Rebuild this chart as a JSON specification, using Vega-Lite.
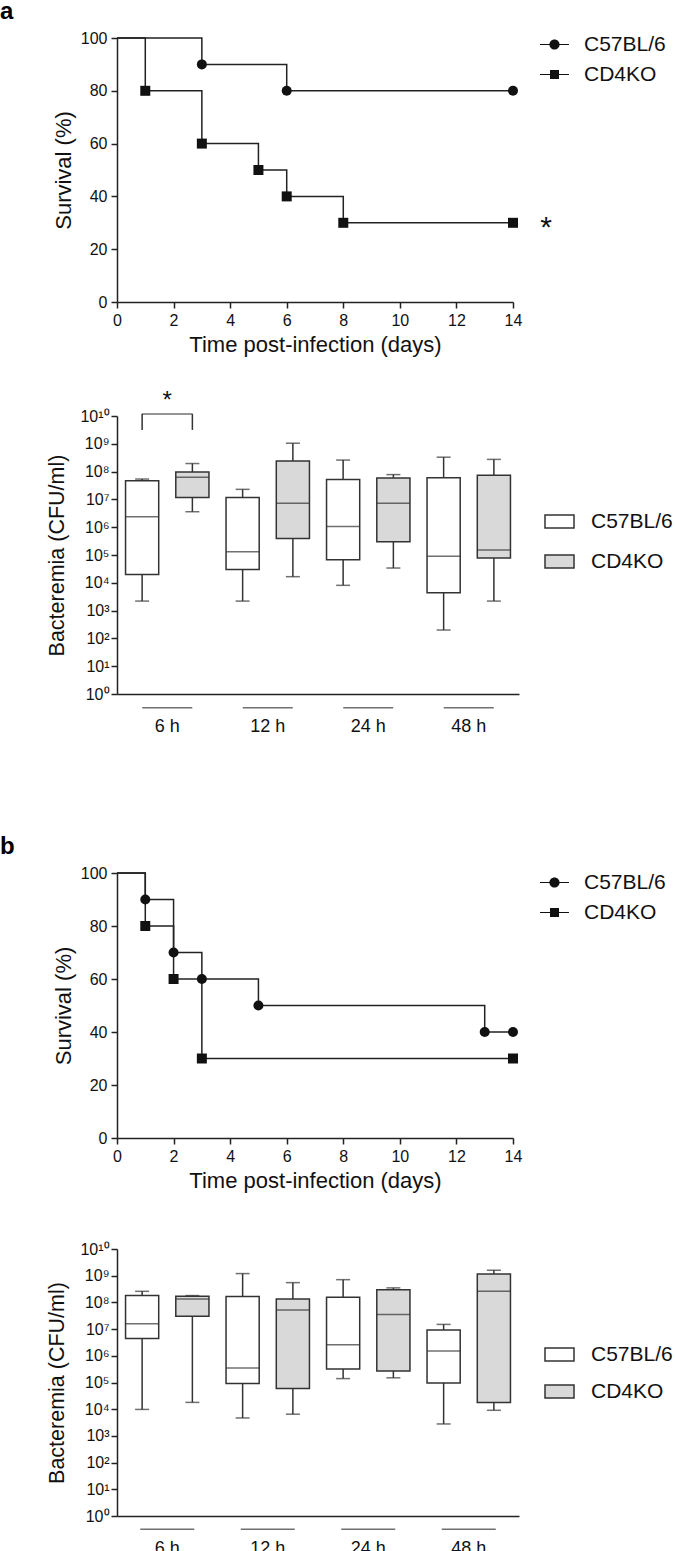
{
  "$schema": "https://vega.github.io/schema/vega-lite/v6.json",
  "background": "white",
  "padding": {"left": 0, "top": 0, "right": 0, "bottom": 0},
  "datasets": {
    "surv_a": [
      {"strain": "C57BL/6", "day": 0, "survival": 100},
      {"strain": "C57BL/6", "day": 3, "survival": 90},
      {"strain": "C57BL/6", "day": 6, "survival": 80},
      {"strain": "C57BL/6", "day": 14, "survival": 80},
      {"strain": "CD4KO", "day": 0, "survival": 100},
      {"strain": "CD4KO", "day": 1, "survival": 80},
      {"strain": "CD4KO", "day": 3, "survival": 60},
      {"strain": "CD4KO", "day": 5, "survival": 50},
      {"strain": "CD4KO", "day": 6, "survival": 40},
      {"strain": "CD4KO", "day": 8, "survival": 30},
      {"strain": "CD4KO", "day": 14, "survival": 30}
    ],
    "surv_b": [
      {"strain": "C57BL/6", "day": 0, "survival": 100},
      {"strain": "C57BL/6", "day": 1, "survival": 90},
      {"strain": "C57BL/6", "day": 2, "survival": 70},
      {"strain": "C57BL/6", "day": 3, "survival": 60},
      {"strain": "C57BL/6", "day": 5, "survival": 50},
      {"strain": "C57BL/6", "day": 13, "survival": 40},
      {"strain": "C57BL/6", "day": 14, "survival": 40},
      {"strain": "CD4KO", "day": 0, "survival": 100},
      {"strain": "CD4KO", "day": 1, "survival": 80},
      {"strain": "CD4KO", "day": 2, "survival": 60},
      {"strain": "CD4KO", "day": 3, "survival": 30},
      {"strain": "CD4KO", "day": 14, "survival": 30}
    ],
    "box_a": [
      {"time": "6 h", "strain": "C57BL/6", "min": 2200, "q1": 20000, "median": 2400000, "q3": 47000000, "max": 54000000},
      {"time": "6 h", "strain": "CD4KO", "min": 3600000, "q1": 11800000, "median": 63000000, "q3": 97000000, "max": 195000000},
      {"time": "12 h", "strain": "C57BL/6", "min": 2200, "q1": 30000, "median": 130000, "q3": 11700000, "max": 23000000},
      {"time": "12 h", "strain": "CD4KO", "min": 16600, "q1": 390000, "median": 7200000, "q3": 240000000, "max": 1050000000},
      {"time": "24 h", "strain": "C57BL/6", "min": 8100, "q1": 68000, "median": 1070000, "q3": 52000000, "max": 260000000},
      {"time": "24 h", "strain": "CD4KO", "min": 34000, "q1": 300000, "median": 7200000, "q3": 59000000, "max": 78000000},
      {"time": "48 h", "strain": "C57BL/6", "min": 200, "q1": 4400, "median": 91000, "q3": 60000000, "max": 330000000},
      {"time": "48 h", "strain": "CD4KO", "min": 2200, "q1": 78000, "median": 150000, "q3": 74000000, "max": 275000000}
    ],
    "box_b": [
      {"time": "6 h", "strain": "C57BL/6", "min": 9800, "q1": 4400000, "median": 16000000, "q3": 180000000, "max": 260000000},
      {"time": "6 h", "strain": "CD4KO", "min": 18000, "q1": 30000000, "median": 135000000, "q3": 170000000, "max": 180000000},
      {"time": "12 h", "strain": "C57BL/6", "min": 4700, "q1": 91000, "median": 350000, "q3": 166000000, "max": 1200000000},
      {"time": "12 h", "strain": "CD4KO", "min": 6500, "q1": 59000, "median": 52000000, "q3": 135000000, "max": 550000000},
      {"time": "24 h", "strain": "C57BL/6", "min": 140000, "q1": 320000, "median": 2600000, "q3": 155000000, "max": 710000000},
      {"time": "24 h", "strain": "CD4KO", "min": 150000, "q1": 270000, "median": 35000000, "q3": 295000000, "max": 350000000},
      {"time": "48 h", "strain": "C57BL/6", "min": 2800, "q1": 95000, "median": 1500000, "q3": 9300000, "max": 15000000},
      {"time": "48 h", "strain": "CD4KO", "min": 9100, "q1": 18000, "median": 260000000, "q3": 1170000000, "max": 1600000000}
    ]
  },
  "config": {
    "view": {"stroke": null},
    "font": "Liberation Sans",
    "axis": {
      "grid": false,
      "domainColor": "#222", "domainWidth": 1.5,
      "tickColor": "#222", "tickWidth": 1.5, "tickSize": 6,
      "labelFont": "Liberation Sans", "labelFontSize": 16, "labelColor": "#111",
      "titleFont": "Liberation Sans", "titleFontSize": 21, "titleFontWeight": "normal", "titleColor": "#111",
      "labelFlush": false, "labelOverlap": false
    },
    "legend": {
      "labelFont": "Liberation Sans", "labelFontSize": 21, "labelColor": "#111", "padding": 0
    }
  },
  "spacing": 100,
  "resolve": {
    "scale": {"shape": "independent", "fill": "independent"},
    "legend": {"shape": "independent", "fill": "independent"}
  },
  "vconcat": [
    {
      "spacing": 114,
      "bounds": "flush",
      "resolve": {
        "scale": {"shape": "independent", "fill": "independent"},
        "legend": {"shape": "independent", "fill": "independent"}
      },
      "vconcat": [
        {
          "width": 396, "height": 264,
          "title": {"text": "a", "anchor": "start", "frame": "group", "dx": -117, "offset": -14, "baseline": "alphabetic", "fontSize": 24, "fontWeight": "bold", "font": "Liberation Sans", "color": "#000"},
          "resolve": {"scale": {"shape": "independent"}, "legend": {"shape": "independent"}},
          "layer": [
            {
              "data": {"name": "surv_a"},
              "mark": {"type": "line", "interpolate": "step-after", "color": "#222", "strokeWidth": 1.5},
              "encoding": {
                "x": {"field": "day", "type": "quantitative", "scale": {"domain": [0, 14], "nice": false},
                      "axis": {"values": [0, 2, 4, 6, 8, 10, 12, 14], "title": "Time post-infection (days)", "titleFontSize": 22, "titlePadding": 6, "labelPadding": 4}},
                "y": {"field": "survival", "type": "quantitative", "scale": {"domain": [0, 100], "nice": false},
                      "axis": {"values": [0, 20, 40, 60, 80, 100], "title": "Survival (%)", "titleFontSize": 22, "titlePadding": 5, "labelPadding": 4}},
                "detail": {"field": "strain"}
              }
            },
            {
              "data": {"name": "surv_a"},
              "transform": [{"filter": "datum.day > 0"}],
              "mark": {"type": "point", "filled": true, "opacity": 1, "color": "#111", "size": 100},
              "encoding": {
                "x": {"field": "day", "type": "quantitative"},
                "y": {"field": "survival", "type": "quantitative"},
                "shape": {"field": "strain", "type": "nominal",
                  "scale": {"domain": ["C57BL/6", "CD4KO"], "range": ["circle", "square"]}, "legend": null}
              }
            },
            {
              "data": {"name": "surv_a"},
              "transform": [{"filter": "datum.day < 0"}],
              "mark": {"type": "point", "filled": true, "color": "#111", "opacity": 1, "size": 841},
              "encoding": {
                "x": {"field": "day", "type": "quantitative"},
                "y": {"field": "survival", "type": "quantitative"},
                "shape": {"field": "strain", "type": "nominal",
                  "scale": {"domain": ["C57BL/6", "CD4KO"], "range": ["M-1,-0.03L1,-0.03L1,0.03L-1,0.03ZM0.35,0A0.35,0.35,0,1,1,-0.35,0A0.35,0.35,0,1,1,0.35,0Z", "M-1,-0.03L1,-0.03L1,0.03L-1,0.03ZM-0.31,-0.31L0.31,-0.31L0.31,0.31L-0.31,0.31Z"]},
                  "legend": {"orient": "none", "legendX": 422, "legendY": -9, "title": null,
                    "symbolSize": 841, "symbolFillColor": "#111",
                    "labelOffset": 14, "rowPadding": 4}}
              }
            },
            {
              "data": {"values": [{}]},
              "mark": {"type": "text", "text": "*", "fontSize": 30, "dx": 33, "baseline": "alphabetic", "align": "center", "color": "#111"},
              "encoding": {"x": {"datum": 14}, "y": {"datum": 24.6}}
            }
          ]
        },
        {
          "width": 402, "height": 278,
          "data": {"name": "box_a"},
          "layer": [
            {
              "mark": {"type": "rule", "color": "#333", "strokeWidth": 1.5},
              "encoding": {
                "x": {"field": "time", "type": "nominal", "scale": {"domain": ["6 h", "12 h", "24 h", "48 h"], "paddingInner": 0, "paddingOuter": 0},
                      "axis": {"title": null, "ticks": false, "tickSize": 0, "labelPadding": 23, "labelFontSize": 18, "labelAngle": 0}},
                "xOffset": {"field": "strain", "type": "nominal", "scale": {"domain": ["C57BL/6", "CD4KO"], "paddingInner": 0.34, "paddingOuter": 0.17}},
                "y": {"field": "min", "type": "quantitative", "scale": {"type": "log", "domain": [1, 10000000000]},
                      "axis": {"values": [1, 10, 100, 1000, 10000, 100000, 1000000, 10000000, 100000000, 1000000000, 10000000000],
                               "labelExpr": "'10' + ['⁰','¹','²','³','⁴','⁵','⁶','⁷','⁸','⁹','¹⁰'][round(log(datum.value)/LN10)]",
                               "title": "Bacteremia (CFU/ml)", "titleFontSize": 21.5, "titlePadding": 11, "labelPadding": 2}},
                "y2": {"field": "max"}
              }
            },
            {
              "mark": {"type": "tick", "color": "#333", "thickness": 1.5, "size": 14},
              "encoding": {
                "x": {"field": "time", "type": "nominal"},
                "xOffset": {"field": "strain", "type": "nominal"},
                "y": {"field": "min", "type": "quantitative"}
              }
            },
            {
              "mark": {"type": "tick", "color": "#333", "thickness": 1.5, "size": 14},
              "encoding": {
                "x": {"field": "time", "type": "nominal"},
                "xOffset": {"field": "strain", "type": "nominal"},
                "y": {"field": "max", "type": "quantitative"}
              }
            },
            {
              "mark": {"type": "bar", "stroke": "#333", "strokeWidth": 1.5},
              "encoding": {
                "x": {"field": "time", "type": "nominal"},
                "xOffset": {"field": "strain", "type": "nominal"},
                "y": {"field": "q1", "type": "quantitative"},
                "y2": {"field": "q3"},
                "fill": {"field": "strain", "type": "nominal",
                  "scale": {"domain": ["C57BL/6", "CD4KO"], "range": ["#ffffff", "#d9d9d9"]},
                  "legend": {"orient": "none", "legendX": 427, "legendY": 90, "title": null,
                    "symbolType": "M-1,-0.45L1,-0.45L1,0.45L-1,0.45Z", "symbolSize": 841,
                    "symbolStrokeColor": "#333", "symbolStrokeWidth": 1.5, "labelOffset": 16, "rowPadding": 14}}
              }
            },
            {
              "mark": {"type": "tick", "color": "#333", "thickness": 1.5, "size": 33},
              "encoding": {
                "x": {"field": "time", "type": "nominal"},
                "xOffset": {"field": "strain", "type": "nominal"},
                "y": {"field": "median", "type": "quantitative"}
              }
            },
            {
              "transform": [{"filter": "datum.strain === 'C57BL/6'"}],
              "mark": {"type": "tick", "color": "#333", "thickness": 1.5, "size": 50},
              "encoding": {
                "x": {"field": "time", "type": "nominal"},
                "y": {"datum": 0.32}
              }
            },
            {
              "transform": [{"filter": "datum.time === '6 h'"}],
              "mark": {"type": "rule", "color": "#333", "strokeWidth": 1.5},
              "encoding": {
                "x": {"field": "time", "type": "nominal"},
                "xOffset": {"field": "strain", "type": "nominal"},
                "y": {"datum": 3160000000},
                "y2": {"datum": 11700000000}
              }
            },
            {
              "transform": [{"filter": "datum.time === '6 h' && datum.strain === 'C57BL/6'"}],
              "mark": {"type": "tick", "color": "#333", "thickness": 1.5, "size": 51},
              "encoding": {
                "x": {"field": "time", "type": "nominal"},
                "y": {"datum": 11700000000}
              }
            },
            {
              "transform": [{"filter": "datum.time === '6 h' && datum.strain === 'C57BL/6'"}],
              "mark": {"type": "text", "text": "*", "fontSize": 24, "baseline": "alphabetic", "align": "center", "color": "#111"},
              "encoding": {
                "x": {"field": "time", "type": "nominal"},
                "y": {"datum": 19000000000}
              }
            }
          ]
        }
      ]
    },
    {
      "spacing": 111,
      "bounds": "flush",
      "resolve": {
        "scale": {"shape": "independent", "fill": "independent"},
        "legend": {"shape": "independent", "fill": "independent"}
      },
      "vconcat": [
        {
          "width": 396, "height": 265,
          "title": {"text": "b", "anchor": "start", "frame": "group", "dx": -117, "offset": -13, "baseline": "alphabetic", "fontSize": 24, "fontWeight": "bold", "font": "Liberation Sans", "color": "#000"},
          "resolve": {"scale": {"shape": "independent"}, "legend": {"shape": "independent"}},
          "layer": [
            {
              "data": {"name": "surv_b"},
              "mark": {"type": "line", "interpolate": "step-after", "color": "#222", "strokeWidth": 1.5},
              "encoding": {
                "x": {"field": "day", "type": "quantitative", "scale": {"domain": [0, 14], "nice": false},
                      "axis": {"values": [0, 2, 4, 6, 8, 10, 12, 14], "title": "Time post-infection (days)", "titleFontSize": 22, "titlePadding": 6, "labelPadding": 4}},
                "y": {"field": "survival", "type": "quantitative", "scale": {"domain": [0, 100], "nice": false},
                      "axis": {"values": [0, 20, 40, 60, 80, 100], "title": "Survival (%)", "titleFontSize": 22, "titlePadding": 5, "labelPadding": 4}},
                "detail": {"field": "strain"}
              }
            },
            {
              "data": {"name": "surv_b"},
              "transform": [{"filter": "datum.day > 0"}],
              "mark": {"type": "point", "filled": true, "opacity": 1, "color": "#111", "size": 100},
              "encoding": {
                "x": {"field": "day", "type": "quantitative"},
                "y": {"field": "survival", "type": "quantitative"},
                "shape": {"field": "strain", "type": "nominal",
                  "scale": {"domain": ["C57BL/6", "CD4KO"], "range": ["circle", "square"]}, "legend": null}
              }
            },
            {
              "data": {"name": "surv_b"},
              "transform": [{"filter": "datum.day < 0"}],
              "mark": {"type": "point", "filled": true, "color": "#111", "opacity": 1, "size": 841},
              "encoding": {
                "x": {"field": "day", "type": "quantitative"},
                "y": {"field": "survival", "type": "quantitative"},
                "shape": {"field": "strain", "type": "nominal",
                  "scale": {"domain": ["C57BL/6", "CD4KO"], "range": ["M-1,-0.03L1,-0.03L1,0.03L-1,0.03ZM0.35,0A0.35,0.35,0,1,1,-0.35,0A0.35,0.35,0,1,1,0.35,0Z", "M-1,-0.03L1,-0.03L1,0.03L-1,0.03ZM-0.31,-0.31L0.31,-0.31L0.31,0.31L-0.31,0.31Z"]},
                  "legend": {"orient": "none", "legendX": 422, "legendY": -6, "title": null,
                    "symbolSize": 841, "symbolFillColor": "#111",
                    "labelOffset": 14, "rowPadding": 4}}
              }
            }
          ]
        },
        {
          "width": 402, "height": 267,
          "data": {"name": "box_b"},
          "layer": [
            {
              "mark": {"type": "rule", "color": "#333", "strokeWidth": 1.5},
              "encoding": {
                "x": {"field": "time", "type": "nominal", "scale": {"domain": ["6 h", "12 h", "24 h", "48 h"], "paddingInner": 0, "paddingOuter": 0},
                      "axis": {"title": null, "ticks": false, "tickSize": 0, "labelPadding": 23, "labelFontSize": 18, "labelAngle": 0}},
                "xOffset": {"field": "strain", "type": "nominal", "scale": {"domain": ["C57BL/6", "CD4KO"], "paddingInner": 0.34, "paddingOuter": 0.17}},
                "y": {"field": "min", "type": "quantitative", "scale": {"type": "log", "domain": [1, 10000000000]},
                      "axis": {"values": [1, 10, 100, 1000, 10000, 100000, 1000000, 10000000, 100000000, 1000000000, 10000000000],
                               "labelExpr": "'10' + ['⁰','¹','²','³','⁴','⁵','⁶','⁷','⁸','⁹','¹⁰'][round(log(datum.value)/LN10)]",
                               "title": "Bacteremia (CFU/ml)", "titleFontSize": 21.5, "titlePadding": 11, "labelPadding": 2}},
                "y2": {"field": "max"}
              }
            },
            {
              "mark": {"type": "tick", "color": "#333", "thickness": 1.5, "size": 14},
              "encoding": {
                "x": {"field": "time", "type": "nominal"},
                "xOffset": {"field": "strain", "type": "nominal"},
                "y": {"field": "min", "type": "quantitative"}
              }
            },
            {
              "mark": {"type": "tick", "color": "#333", "thickness": 1.5, "size": 14},
              "encoding": {
                "x": {"field": "time", "type": "nominal"},
                "xOffset": {"field": "strain", "type": "nominal"},
                "y": {"field": "max", "type": "quantitative"}
              }
            },
            {
              "mark": {"type": "bar", "stroke": "#333", "strokeWidth": 1.5},
              "encoding": {
                "x": {"field": "time", "type": "nominal"},
                "xOffset": {"field": "strain", "type": "nominal"},
                "y": {"field": "q1", "type": "quantitative"},
                "y2": {"field": "q3"},
                "fill": {"field": "strain", "type": "nominal",
                  "scale": {"domain": ["C57BL/6", "CD4KO"], "range": ["#ffffff", "#d9d9d9"]},
                  "legend": {"orient": "none", "legendX": 427, "legendY": 90, "title": null,
                    "symbolType": "M-1,-0.45L1,-0.45L1,0.45L-1,0.45Z", "symbolSize": 841,
                    "symbolStrokeColor": "#333", "symbolStrokeWidth": 1.5, "labelOffset": 16, "rowPadding": 11}}
              }
            },
            {
              "mark": {"type": "tick", "color": "#333", "thickness": 1.5, "size": 33},
              "encoding": {
                "x": {"field": "time", "type": "nominal"},
                "xOffset": {"field": "strain", "type": "nominal"},
                "y": {"field": "median", "type": "quantitative"}
              }
            },
            {
              "transform": [{"filter": "datum.strain === 'C57BL/6'"}],
              "mark": {"type": "tick", "color": "#333", "thickness": 1.5, "size": 54},
              "encoding": {
                "x": {"field": "time", "type": "nominal"},
                "y": {"datum": 0.32}
              }
            }
          ]
        }
      ]
    }
  ]
}
